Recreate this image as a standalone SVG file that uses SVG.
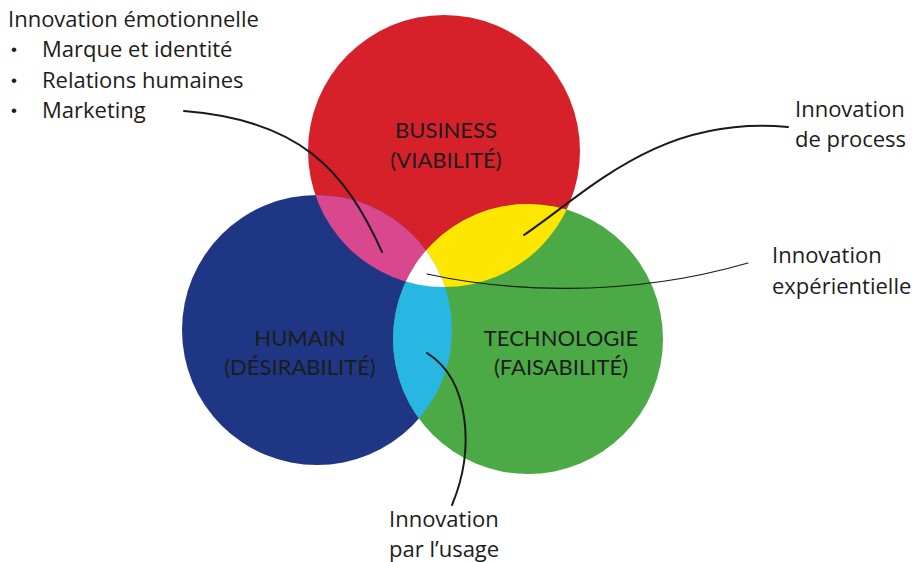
<svg xmlns="http://www.w3.org/2000/svg" width="916" height="562" viewBox="0 0 916 562">
<style>
text{font-family:Lato,"Open Sans","Liberation Sans",sans-serif;fill:#1c1c1c;}
.lbl{font-family:"Open Sans",Lato,"Liberation Sans",sans-serif;font-size:22px;}
.bul{font-family:"Liberation Sans",sans-serif;font-size:17px;}
.big{font-size:22px;text-anchor:middle;}
.conn{fill:none;stroke:#1a1a1a;stroke-width:2;stroke-linecap:round;}
.thin{stroke-width:1.2;}
</style>
<defs>
<circle id="cR" cx="444" cy="151" r="136"/>
<circle id="cB" cx="317" cy="330" r="135"/>
<circle id="cG" cx="528" cy="339" r="135"/>
<clipPath id="clipR"><use href="#cR"/></clipPath>
<clipPath id="clipB"><use href="#cB"/></clipPath>
</defs>
<rect width="916" height="562" fill="#ffffff"/>
<g id="business">
<use href="#cR" fill="#d7212a"/>
</g>
<g id="humain">
<use href="#cB" fill="#1f3685"/>
</g>
<g id="technologie">
<use href="#cG" fill="#4caa46"/>
</g>
<g id="overlaps">
<g clip-path="url(#clipR)"><use href="#cB" fill="#d9488f"/></g>
<g clip-path="url(#clipR)"><use href="#cG" fill="#fde600"/></g>
<g clip-path="url(#clipB)"><use href="#cG" fill="#28b6e2"/></g>
<g clip-path="url(#clipR)"><g clip-path="url(#clipB)"><use href="#cG" fill="#ffffff"/></g></g>
</g>
<g id="labels-circles">
<text class="big" x="446" y="138">BUSINESS</text>
<text class="big" x="446" y="168">(VIABILITÉ)</text>
<text class="big" x="300" y="346">HUMAIN</text>
<text class="big" x="300" y="375">(DÉSIRABILITÉ)</text>
<text class="big" x="561" y="346">TECHNOLOGIE</text>
<text class="big" x="561" y="375">(FAISABILITÉ)</text>
</g>
<g id="connectors">
<path class="conn" d="M184,111 C300,120 345,170 382,252"/>
<path class="conn" d="M524,235 C590,190 660,115 788,127"/>
<path class="conn thin" d="M427,274 C500,290 620,300 748,263"/>
<path class="conn" d="M427,353 C470,380 475,450 452,505"/>
</g>
<g id="emotionnelle">
<text class="lbl" x="8" y="27">Innovation émotionnelle</text>
<text class="bul" x="11" y="55">•</text>
<text class="lbl" x="42" y="57">Marque et identité</text>
<text class="bul" x="11" y="86">•</text>
<text class="lbl" x="42" y="88">Relations humaines</text>
<text class="bul" x="11" y="116">•</text>
<text class="lbl" x="42" y="118">Marketing</text>
</g>
<g id="process">
<text class="lbl" x="795" y="117">Innovation</text>
<text class="lbl" x="795" y="147">de process</text>
</g>
<g id="experientielle">
<text class="lbl" x="772" y="263">Innovation</text>
<text class="lbl" x="772" y="294">expérientielle</text>
</g>
<g id="usage">
<text class="lbl" x="389" y="527">Innovation</text>
<text class="lbl" x="389" y="557">par l’usage</text>
</g>
</svg>
